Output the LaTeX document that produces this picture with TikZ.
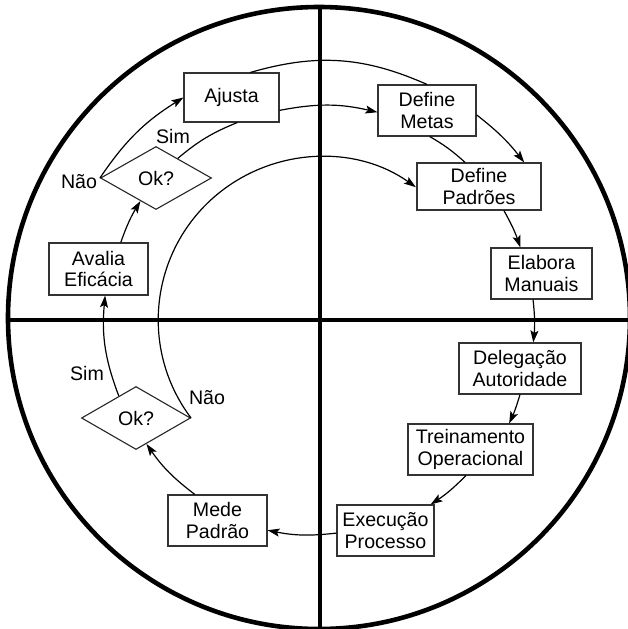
\documentclass[tikz,border=0pt]{standalone}
\usepackage{fontspec}
\setmainfont{Liberation Sans}
\usetikzlibrary{shapes.geometric,arrows.meta}
\begin{document}
\begin{tikzpicture}[x=1pt,y=1pt,
  txt/.style={font=\fontsize{19.6}{21.7}\selectfont, inner sep=0pt, align=center},
  box/.style={txt, draw=black!80, line width=1.1pt, fill=white, minimum height=51pt},
  dia/.style={txt, diamond, draw=black!85, line width=1.1pt, fill=white},
  con/.style={line width=1.2pt},
  arr/.style={con, -{Stealth[length=12pt,width=8pt,inset=2.5pt]}},
  heavy/.style={line width=4.6pt}
]
\useasboundingbox (0,0) rectangle (628,-629);
% frame: circle and cross
\draw[heavy] (319,-318) circle[radius=311];
\coordinate (hl) at (8,-320);
\coordinate (hr) at (630,-320);
\coordinate (vt) at (320,-7);
\coordinate (vb) at (320,-632);
\draw[heavy] (hl) -- (hr);
\draw[heavy] (vt) -- (vb);

% nodes
\node[box, minimum width=95pt, minimum height=49pt] (ajusta) at (231.5,-97.5) {Ajusta};
\node[box, minimum width=98pt] (metas) at (427,-110.5) {Define\\Metas};
\node[box, minimum width=124pt, minimum height=47pt] (padroes) at (479,-186.5) {Define\\Padrões};
\node[box, minimum width=101pt] (elabora) at (541.5,-273.5) {Elabora\\Manuais};
\node[box, minimum width=122pt] (delegacao) at (520,-368.5) {Delegação\\Autoridade};
\node[box, minimum width=125pt] (treinamento) at (470.5,-449.5) {Treinamento\\Operacional};
\node[box, minimum width=97pt] (execucao) at (385.5,-530.5) {Execução\\Processo};
\node[box, minimum width=99pt] (mede) at (217.5,-520.5) {Mede\\Padrão};
\node[dia, minimum width=109pt, minimum height=63pt] (ok2) at (136,-418) {Ok?};
\node[box, minimum width=99pt, minimum height=52pt] (avalia) at (98.5,-269) {Avalia\\Eficácia};
\node[dia, minimum width=111pt, minimum height=63pt] (ok1) at (156,-178) {Ok?};

% labels
\node[txt] (nao1) at (79,-182) {Não};
\node[txt] (sim1) at (173,-136) {Sim};
\node[txt] (sim2) at (87,-373) {Sim};
\node[txt] (nao2) at (207,-398) {Não};

% connectors
\draw[con] (ok1.42) to[bend left=9] (ajusta.-77);
\draw[arr] (ok1.west) to[bend left=12] (ajusta.west);
\draw[con] (ajusta.53) to[bend left=20] (metas.north);
\draw[arr] (ajusta.-15) to[bend left=12] (metas.182);
\draw[con] (metas.-84) to[bend left=6] (padroes.120);
\draw[arr] (metas.-5) to[bend left=7] (padroes.28);
\draw[arr] (padroes.-44) to[bend left=5] (elabora.129);
\draw[arr] (elabora.-108) to[bend left=6] (delegacao.63);
\draw[arr] (delegacao.south) to[bend left=4] (treinamento.34);
\draw[arr] (treinamento.-100) to[bend left=6] (execucao.30);
\draw[arr] (execucao.183) to[bend left=9] (mede.-11);
\draw[arr] (mede.131) to[bend left=9] (ok2.-68);
\draw[arr] (ok2.128) to[bend left=13] (avalia.-76);
\draw[arr] (avalia.50) to[bend left=6] (ok1.-124);
\draw[arr] (ok2.east) arc[start angle=217, end angle=54.5, radius=163];
\end{tikzpicture}
\end{document}
